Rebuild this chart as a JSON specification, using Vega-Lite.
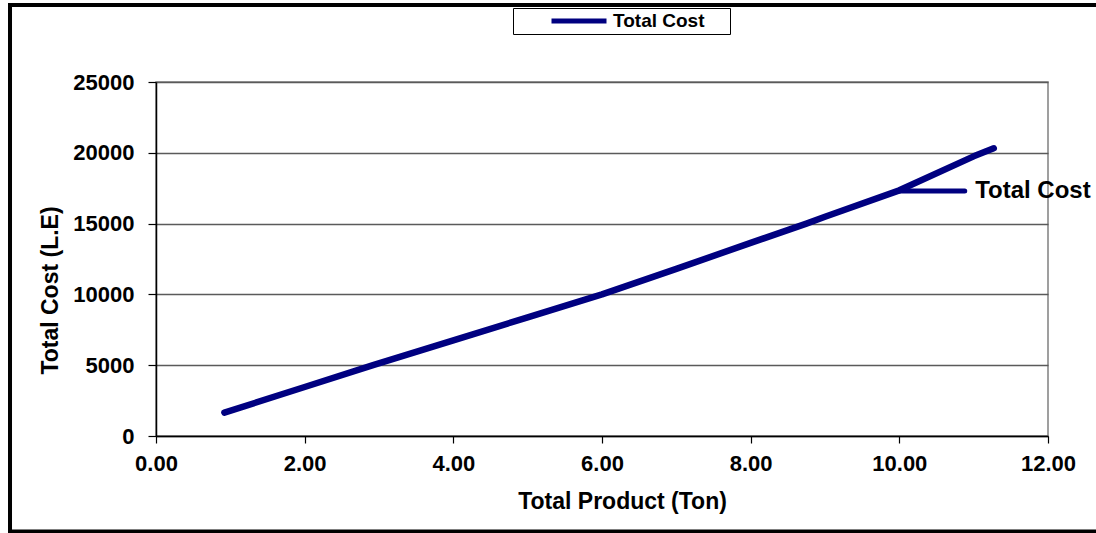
{
  "$schema": "https://vega.github.io/schema/vega-lite/v6.json",
  "width": 892,
  "height": 354,
  "autosize": {"type": "none"},
  "padding": {"left": 156, "top": 82, "right": 48, "bottom": 97},
  "background": "white",
  "config": {
    "font": "Liberation Sans",
    "view": {"stroke": "#808080", "strokeWidth": 1.5},
    "axis": {
      "labelFont": "Liberation Sans",
      "labelFontWeight": "bold",
      "labelFontSize": 22,
      "labelColor": "black",
      "titleFont": "Liberation Sans",
      "titleFontWeight": "bold",
      "titleFontSize": 23,
      "titleColor": "black",
      "domainColor": "black",
      "domainWidth": 1.5,
      "tickColor": "black",
      "tickWidth": 1.2
    }
  },
  "datasets": {
    "cost": [
      {"product": 0.92, "cost": 1650, "series": "Total Cost"},
      {"product": 2.0, "cost": 3460, "series": "Total Cost"},
      {"product": 2.92, "cost": 5000, "series": "Total Cost"},
      {"product": 4.0, "cost": 6760, "series": "Total Cost"},
      {"product": 5.0, "cost": 8380, "series": "Total Cost"},
      {"product": 6.0, "cost": 10000, "series": "Total Cost"},
      {"product": 7.0, "cost": 11800, "series": "Total Cost"},
      {"product": 8.0, "cost": 13640, "series": "Total Cost"},
      {"product": 8.75, "cost": 15000, "series": "Total Cost"},
      {"product": 9.0, "cost": 15480, "series": "Total Cost"},
      {"product": 10.0, "cost": 17350, "series": "Total Cost"},
      {"product": 11.0, "cost": 19750, "series": "Total Cost"},
      {"product": 11.27, "cost": 20320, "series": "Total Cost"}
    ],
    "label": [
      {"x0": 10.0, "x1": 10.88, "xt": 11.02, "y": 17300, "text": "Total Cost"}
    ]
  },
  "layer": [
    {
      "data": {"name": "cost"},
      "mark": {"type": "line", "strokeWidth": 6.5, "strokeCap": "round", "strokeJoin": "round"},
      "encoding": {
        "x": {
          "field": "product", "type": "quantitative",
          "scale": {"domain": [0, 12], "nice": false, "zero": false},
          "axis": {
            "values": [0, 2, 4, 6, 8, 10, 12],
            "format": ".2f",
            "grid": false,
            "labelFlush": false,
            "tickSize": 7,
            "labelPadding": 10,
            "title": "Total Product (Ton)",
            "titleX": 466,
            "titleY": 72,
            "titleAlign": "center",
            "titleBaseline": "alphabetic"
          }
        },
        "y": {
          "field": "cost", "type": "quantitative",
          "scale": {"domain": [0, 25000], "nice": false},
          "axis": {
            "values": [0, 5000, 10000, 15000, 20000, 25000],
            "format": "d",
            "grid": true,
            "gridColor": "#5a5a5a",
            "gridWidth": 1.3,
            "tickSize": 8,
            "labelPadding": 14,
            "title": "Total Cost (L.E)",
            "titleAngle": 270,
            "titleX": -99,
            "titleY": 208,
            "titleAlign": "center",
            "titleBaseline": "alphabetic"
          }
        },
        "color": {
          "field": "series", "type": "nominal",
          "scale": {"domain": ["Total Cost"], "range": ["#000080"]},
          "legend": {
            "orient": "none",
            "legendX": 357,
            "legendY": -74,
            "title": "x",
            "titleOrient": "right",
            "titleOpacity": 0,
            "titleFontSize": 8,
            "titlePadding": 18,
            "symbolType": "stroke",
            "symbolSize": 3025,
            "symbolStrokeWidth": 5,
            "symbolOffset": 33,
            "clipHeight": 20,
            "labelFont": "Liberation Sans",
            "labelFontWeight": "bold",
            "labelFontSize": 19,
            "labelColor": "black",
            "labelOffset": 4,
            "padding": 3,
            "strokeColor": "black",
            "fillColor": "white"
          }
        }
      }
    },
    {
      "data": {"name": "label"},
      "mark": {"type": "rule", "strokeWidth": 5, "color": "#000080", "strokeCap": "round"},
      "encoding": {
        "x": {"field": "x0", "type": "quantitative"},
        "x2": {"field": "x1"},
        "y": {"field": "y", "type": "quantitative"}
      }
    },
    {
      "data": {"name": "label"},
      "mark": {"type": "text", "align": "left", "baseline": "middle", "font": "Liberation Sans", "fontWeight": "bold", "fontSize": 24, "color": "black"},
      "encoding": {
        "x": {"field": "xt", "type": "quantitative"},
        "y": {"field": "y", "type": "quantitative"},
        "text": {"field": "text"}
      }
    },
    {
      "data": {"values": [{}]},
      "mark": {"type": "rect", "stroke": "black", "strokeWidth": 4, "fillOpacity": 0, "clip": false},
      "encoding": {
        "x": {"datum": -1.964, "type": "quantitative"},
        "x2": {"datum": 13.5},
        "y": {"datum": 30438, "type": "quantitative"},
        "y2": {"datum": -6744}
      }
    }
  ]
}
